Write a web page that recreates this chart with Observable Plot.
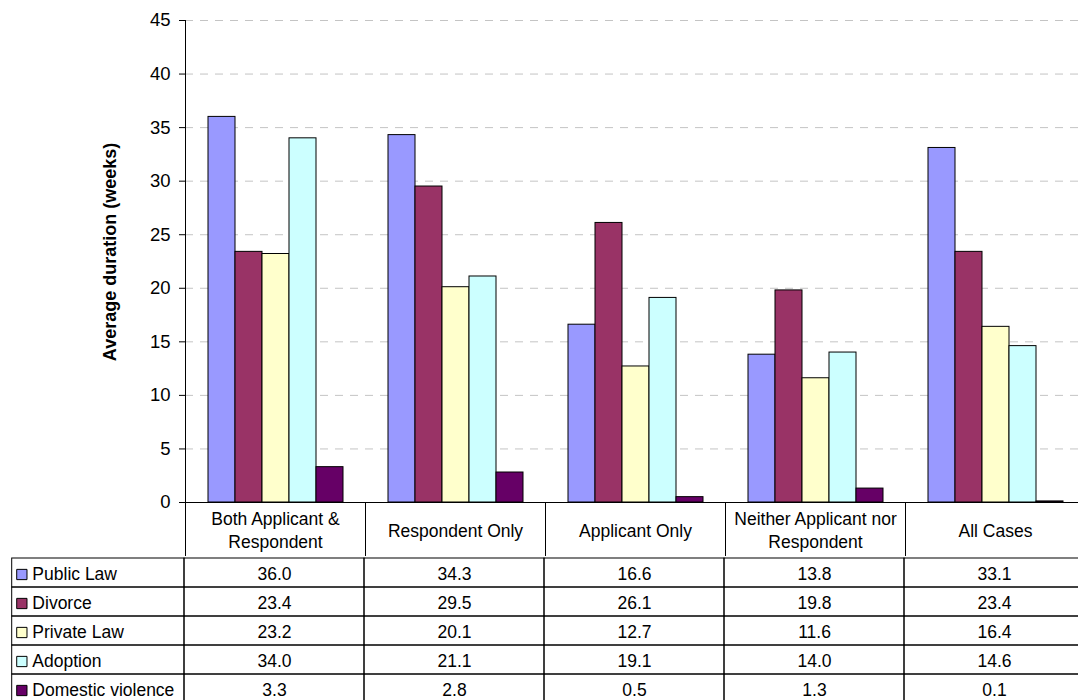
<!DOCTYPE html>
<html><head><meta charset="utf-8">
<script src="https://cdn.jsdelivr.net/npm/d3@7"></script>
<script src="https://cdn.jsdelivr.net/npm/@observablehq/plot@0.6"></script>
<style>
body{margin:0;background:#fff;}
#chart svg{display:block;}
</style>
</head><body><div id="chart"></div>
<script>
const categories = ["Both Applicant & Respondent","Respondent Only","Applicant Only","Neither Applicant nor Respondent","All Cases"];
const categoryLabels = ["Both Applicant &\nRespondent","Respondent Only","Applicant Only","Neither Applicant nor\nRespondent","All Cases"];
const series = ["Public Law","Divorce","Private Law","Adoption","Domestic violence"];
const colors = ["#9999FF","#993366","#FFFFCC","#CCFFFF","#660066"];
const publicLaw = [36.0,34.3,16.6,13.8,33.1];
const divorce = [23.4,29.5,26.1,19.8,23.4];
const privateLaw = [23.2,20.1,12.7,11.6,16.4];
const adoption = [34.0,21.1,19.1,14.0,14.6];
const domesticViolence = [3.3,2.8,0.5,1.3,0.1];
const yTicks = [0,5,10,15,20,25,30,35,40,45];
const yLabel = "Average duration (weeks)";

const seriesValues = [publicLaw, divorce, privateLaw, adoption, domesticViolence];
const rows = [];
series.forEach((s, si) => categories.forEach((c, ci) => rows.push({series: s, category: c, value: seriesValues[si][ci]})));

const font = "'Liberation Sans', Arial, sans-serif";
const colLeft = 183, colRight = 1086.5;
const step = (colRight - colLeft) / categories.length;

const chart = Plot.plot({
  width: 1078, height: 556,
  marginTop: 20, marginBottom: 54, marginLeft: 183, marginRight: 0,
  style: {fontFamily: font, background: "white", color: "black", overflow: "hidden"},
  fx: {domain: categories, range: [colLeft, colRight], padding: 0, axis: null},
  x: {domain: series, paddingInner: 0, paddingOuter: 0.75, axis: null},
  y: {domain: [0, 45], axis: null},
  color: {domain: series, range: colors},
  marks: [
    Plot.gridY(yTicks.slice(1), {stroke: "#c4c4c4", strokeOpacity: 1, strokeDasharray: "8,7"}),
    Plot.axisY(yTicks, {tickSize: 6, tickPadding: 9, fontSize: 18.5, label: null, stroke: "black", fill: "black"}),
    Plot.frame({anchor: "left", fx: () => categories[0], stroke: "black"}),
    Plot.barY(rows, {fx: "category", x: "series", y: "value", fill: "series", stroke: "black", strokeWidth: 1, inset: 0}),
    Plot.ruleY([0], {stroke: "black"}),
    Plot.frame({anchor: "left", insetTop: 482, insetBottom: -54, stroke: "black"}),
    Plot.frame({anchor: "right", insetTop: 482, insetBottom: -54, stroke: "black"}),
    Plot.text(categories, {fx: d => d, text: (d, i) => categoryLabels[i], frameAnchor: "bottom", dy: 27, lineAnchor: "middle", lineHeight: 1.3, fontSize: 17.5, fill: "black"}),
    Plot.text([yLabel], {fx: () => categories[0], frameAnchor: "left", textAnchor: "middle", dx: -75, dy: -9.5, rotate: -90, fontWeight: "bold", fontSize: 18, fill: "black"})
  ]
});

const legendKey = "legend";
const table = Plot.plot({
  width: 1078, height: 144, margin: 0,
  style: {fontFamily: font, background: "white", color: "black"},
  x: {type: "band", domain: [legendKey, ...categories], range: [colLeft - step, colRight], padding: 0, axis: null},
  y: {type: "band", domain: series, range: [0.5, 148], padding: 0, axis: null},
  color: {domain: series, range: colors},
  marks: [
    Plot.cell(rows, {x: "category", y: "series", fill: "none", stroke: "black", inset: 0}),
    Plot.cell(series, {x: () => legendKey, y: d => d, fill: "none", stroke: "black", inset: 0, insetLeft: 10 - (colLeft - step)}),
    Plot.text(rows, {x: "category", y: "series", text: d => d.value.toFixed(1), fontSize: 17.5, fill: "black", dy: 1}),
    Plot.dot(series, {x: () => legendKey, y: d => d, symbol: "square", r: 5.8, fill: d => d, stroke: "black", strokeWidth: 1, dx: 20 - (colLeft - step / 2), dy: 1.5}),
    Plot.text(series, {x: () => legendKey, y: d => d, text: d => d, textAnchor: "start", dx: 30.5 - (colLeft - step / 2), fontSize: 17.5, fill: "black", dy: 1})
  ]
});

const root = document.getElementById("chart");
root.appendChild(chart);
root.appendChild(table);
</script>
</body></html>
